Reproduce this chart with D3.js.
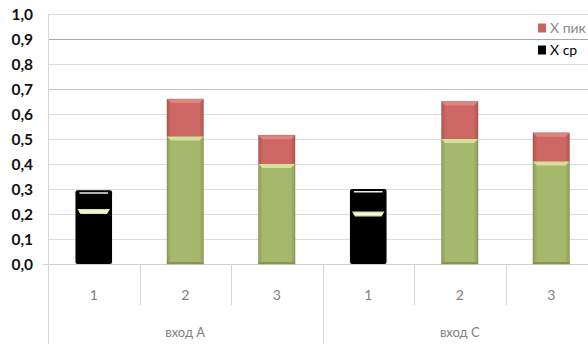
<!DOCTYPE html>
<html><head><meta charset="utf-8">
<script src="https://cdn.jsdelivr.net/npm/d3@7"></script>
<style>body{margin:0;background:#fff}svg{display:block}</style>
</head><body>
<svg id="c" width="588" height="344"></svg>
<script>
const groups = ["вход A", "вход C"];
const subcats = ["1", "2", "3"];
const xSr  = [0.22, 0.51, 0.40, 0.21, 0.50, 0.41];   // lower segment (X ср)
const xPik = [0.075, 0.15, 0.115, 0.09, 0.15, 0.115]; // upper segment (X пик)
const yTicks = [0, 0.1, 0.2, 0.3, 0.4, 0.5, 0.6, 0.7, 0.8, 0.9, 1.0];
const seriesNames = ["X пик", "X ср"];

(function () {
const svg = d3.select("#c");
const W = 588, H = 344;
const pLeft = 48, pRight = 597, pTop = 14, pBase = 264;

const keys = [];
groups.forEach(g => subcats.forEach(s => keys.push(g + "|" + s)));
const rows = keys.map((k, i) => ({key: k, g: k.split("|")[0], s: k.split("|")[1], sr: xSr[i], pik: xPik[i], idx: i}));

const x = d3.scaleBand().domain(keys).range([pLeft, pRight]).paddingInner(0.6).paddingOuter(0.3);
const step = x.step();
const y = d3.scaleLinear().domain([0, 1]).range([pBase, pTop]);

const defs = svg.append("defs");
function hgrad(id, edge, mid) {
  const g = defs.append("linearGradient").attr("id", id).attr("x1", 0).attr("x2", 1).attr("y1", 0).attr("y2", 0);
  g.append("stop").attr("offset", "0").attr("stop-color", edge);
  g.append("stop").attr("offset", "0.12").attr("stop-color", mid);
  g.append("stop").attr("offset", "0.88").attr("stop-color", mid);
  g.append("stop").attr("offset", "1").attr("stop-color", edge);
}
hgrad("gGreen", "#8f9f55", "#a6b86c");
hgrad("gRed", "#b4524e", "#cd6763");

// gridlines
svg.append("g").selectAll("line").data(yTicks.slice(1)).join("line")
  .attr("x1", pLeft).attr("x2", W)
  .attr("y1", d => Math.round(y(d)) + 0.5).attr("y2", d => Math.round(y(d)) + 0.5)
  .attr("stroke", d => Math.abs(d - 0.9) < 1e-9 ? "#a8a8a8" : (Math.abs(d - 0.7) < 1e-9 ? "#c4c4c4" : "#dcdcdc"))
  .attr("stroke-width", 1);
svg.append("line").attr("x1", pLeft - 5).attr("x2", W).attr("y1", Math.round(y(0)) + 0.5).attr("y2", Math.round(y(0)) + 0.5)
  .attr("stroke", "#cfcfcf");

// y axis labels
const yAxis = d3.axisLeft(y).tickValues(yTicks).tickSize(0).tickPadding(0)
  .tickFormat(d => d3.format(".1f")(d).replace(".", ","));
const ya = svg.append("g").attr("transform", `translate(${pLeft - 15},0)`).call(yAxis);
ya.select(".domain").remove();
ya.selectAll("text").attr("font-family", "Lato, 'Open Sans', sans-serif").attr("font-size", 15.5)
  .attr("fill", "#111").attr("font-weight", "bold").attr("dy", "0.35em");

// vertical axis line and separators
svg.append("line").attr("x1", pLeft + 0.5).attr("x2", pLeft + 0.5).attr("y1", pTop).attr("y2", H).attr("stroke", "#d6d6d6");
const boundaries = d3.range(1, keys.length).map(i => ({pos: pLeft + i * step, group: i % subcats.length === 0}));
svg.append("g").selectAll("line").data(boundaries).join("line")
  .attr("x1", d => Math.round(d.pos) + 0.5).attr("x2", d => Math.round(d.pos) + 0.5)
  .attr("y1", pBase).attr("y2", d => d.group ? H : 305)
  .attr("stroke", "#d6d6d6");

// bars
const stack = d3.stack().keys(["sr", "pik"])(rows);
const bw = x.bandwidth();
const barG = svg.append("g");
rows.forEach((r, i) => {
  const x0 = x(r.key);
  const black = (i % subcats.length === 0);
  const y0 = y(0), y1 = y(stack[0][i][1]), y2 = y(stack[1][i][1]);
  if (black) {
    barG.append("rect").attr("x", x0).attr("y", y2).attr("width", bw).attr("height", y0 - y2).attr("rx", 2).attr("fill", "#000");
    barG.append("rect").attr("x", x0 + 4).attr("y", y2 + 2).attr("width", bw - 8).attr("height", 1.5).attr("fill", "#eee");
    barG.append("path").attr("d", `M${x0 + 2},${y1} L${x0 + bw - 2},${y1} L${x0 + bw - 5},${y1 + 5} L${x0 + 5},${y1 + 5} Z`).attr("fill", "#d9e7a6");
    barG.append("rect").attr("x", x0 + 4).attr("y", y1 + 1.5).attr("width", bw - 8).attr("height", 2).attr("fill", "#f4f8e4");
  } else {
    barG.append("rect").attr("x", x0).attr("y", y1).attr("width", bw).attr("height", y0 - y1).attr("fill", "url(#gGreen)");
    barG.append("path").attr("d", `M${x0},${y1} L${x0 + bw},${y1} L${x0 + bw - 4},${y1 + 4} L${x0 + 4},${y1 + 4} Z`).attr("fill", "#d3e19a");
    barG.append("rect").attr("x", x0).attr("y", y0 - 2).attr("width", bw).attr("height", 2).attr("fill", "#8a9852");
    barG.append("rect").attr("x", x0).attr("y", y2).attr("width", bw).attr("height", y1 - y2).attr("fill", "url(#gRed)");
    barG.append("path").attr("d", `M${x0},${y2} L${x0 + bw},${y2} L${x0 + bw - 4},${y2 + 4} L${x0 + 4},${y2 + 4} Z`).attr("fill", "#e08480");
    barG.append("rect").attr("x", x0).attr("y", y2).attr("width", bw).attr("height", y0 - y2).attr("fill", "none")
      .attr("stroke", "rgba(110,100,80,0.35)").attr("stroke-width", 0.8);
  }
});

// category labels
svg.append("g").selectAll("text").data(rows).join("text")
  .attr("x", d => x(d.key) + bw / 2).attr("y", 295).attr("dy", "0.35em")
  .attr("text-anchor", "middle").attr("font-family", "Lato, 'Open Sans', sans-serif").attr("font-size", 14)
  .attr("fill", "#808080").text(d => d.s);
svg.append("g").selectAll("text").data(groups).join("text")
  .attr("x", (d, i) => pLeft + (i + 0.5) * subcats.length * step).attr("y", 332).attr("dy", "0.35em")
  .attr("text-anchor", "middle").attr("font-family", "Lato, 'Open Sans', sans-serif").attr("font-size", 13)
  .attr("fill", "#808080").text(d => d);

// legend
const leg = svg.append("g");
seriesNames.forEach((n, i) => {
  const ly = 28 + i * 22;
  leg.append("rect").attr("x", 538).attr("y", ly - 4.5).attr("width", 8).attr("height", 9)
    .attr("fill", i === 0 ? "#c86460" : "#000");
  leg.append("text").attr("x", 550).attr("y", ly).attr("dy", "0.35em")
    .attr("font-family", "Lato, 'Open Sans', sans-serif").attr("font-size", 14)
    .attr("fill", i === 0 ? "#8a8a8a" : "#000").text(n);
});
})();
</script>
</body></html>
